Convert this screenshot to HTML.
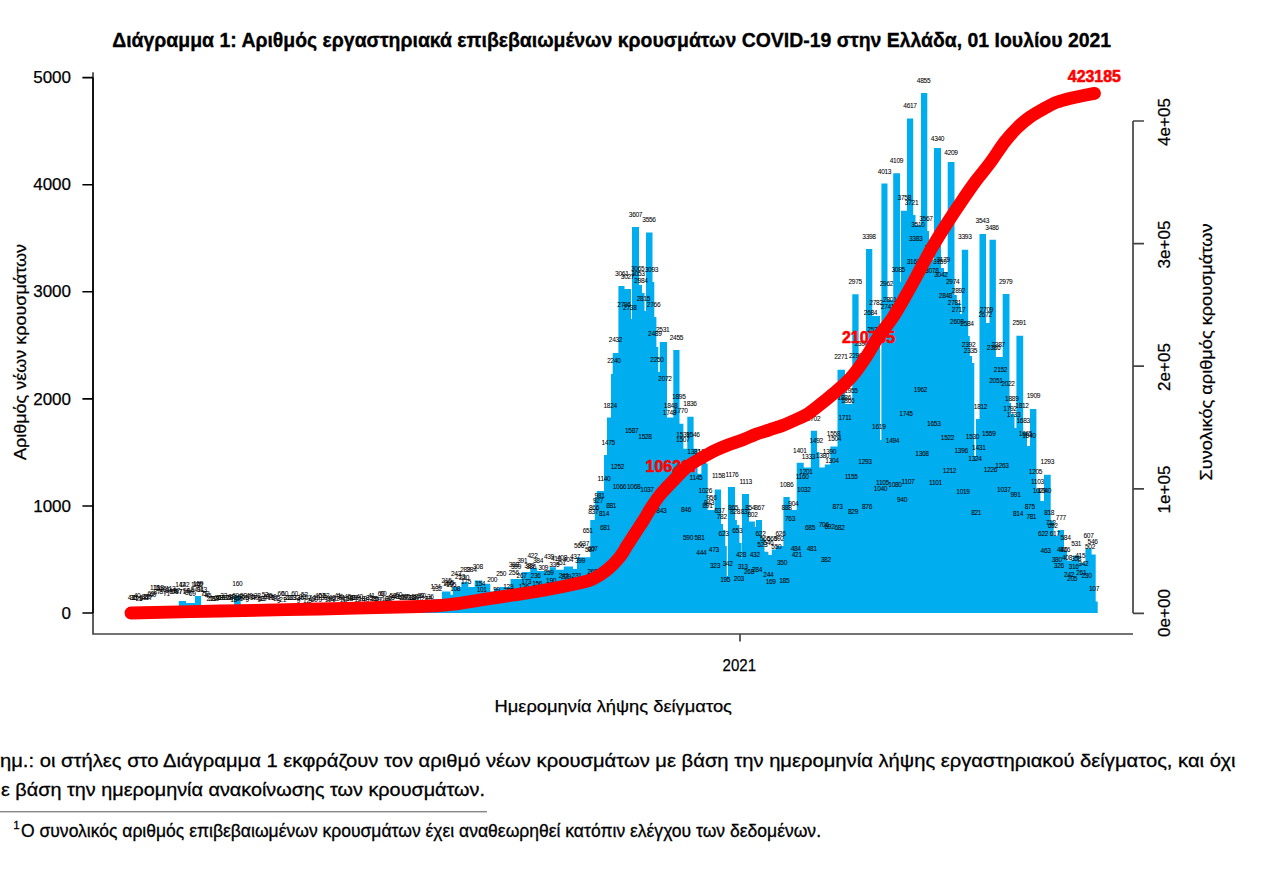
<!DOCTYPE html>
<html><head><meta charset="utf-8"><style>
html,body{margin:0;padding:0;background:#fff;width:1280px;height:880px;overflow:hidden}
svg{display:block}
text{font-family:"Liberation Sans",sans-serif}
</style></head><body>
<svg width="1280" height="880" viewBox="0 0 1280 880">
<rect width="1280" height="880" fill="#fff"/>
<text x="112.2" y="47" font-size="20.5" font-weight="bold" stroke="#000" stroke-width="0.35" textLength="999" lengthAdjust="spacingAndGlyphs">Διάγραμμα 1: Αριθμός εργαστηριακά επιβεβαιωμένων κρουσμάτων COVID-19 στην Ελλάδα, 01 Ιουλίου 2021</text>
<path d="M128,613 L128,607 L157.5,607 L157.5,606 L167.6,606 L167.6,607 L178.8,607 L178.8,601 L186,601 L186,603 L195,603 L195,596 L201.1,596 L201.1,607 L234.1,607 L234.1,595.8 L240.7,595.8 L240.7,607 L432.5,607 L432.5,599 L439.5,599 L439.5,602 L441.9,602 L441.9,591.6 L450.5,591.6 L450.5,594.7 L452.8,594.7 L452.8,586.9 L461.4,586.9 L461.4,582 L468.4,582 L468.4,587 L474.7,587 L474.7,580.6 L482.5,580.6 L482.5,583.75 L490.3,583.75 L490.3,591.6 L494.2,591.6 L494.2,588.4 L499.7,588.4 L499.7,586.9 L510.6,586.9 L510.6,579 L521.6,579 L521.6,572 L530.2,572 L530.2,568 L537.2,568 L537.2,571 L549.7,571 L549.7,567.3 L555.9,567.3 L555.9,569.7 L563.75,569.7 L563.75,566.6 L573.1,566.6 L573.1,568.9 L577,568.9 L577,557.2 L590.3,557.2 L590.3,520 L594.8,520 L594.8,498 L596.8,498 L596.8,491 L604,491 L604,455 L607,455 L607,417.5 L611,417.5 L611,374 L612.7,374 L612.7,353 L618.4,353 L618.4,286 L624.5,286 L624.5,289 L631,289 L631,319 L632,319 L632,227 L639,227 L639,285 L642,285 L642,293 L644.5,293 L644.5,311 L646,311 L646,232.5 L652.5,232.5 L652.5,282 L654.3,282 L654.3,317 L656.4,317 L656.4,347 L658.2,347 L658.2,372 L659.8,372 L659.8,342 L667,342 L667,417.5 L673.3,417.5 L673.3,350 L679.5,350 L679.5,423.75 L683.4,423.75 L683.4,448.75 L687.3,448.75 L687.3,416.7 L693.6,416.7 L693.6,448.75 L697.5,448.75 L697.5,473.75 L701.4,473.75 L701.4,463.6 L707.7,463.6 L707.7,510 L714.7,510 L714.7,489.4 L721,489.4 L721,524 L723,524 L723,530 L725.3,530 L725.3,546 L726.8,546 L726.8,576 L728,576 L728,487 L735,487 L735,520 L736.9,520 L736.9,525 L739.4,525 L739.4,543 L741.6,543 L741.6,558.6 L742,558.6 L742,494 L749,494 L749,521.4 L754.9,521.4 L754.9,527 L756,527 L756,520 L762,520 L762,538 L764.5,538 L764.5,551.8 L768.4,551.8 L768.4,555 L771.8,555 L771.8,549.5 L776,549.5 L776,546 L783.4,546 L783.4,496.9 L789.7,496.9 L789.7,510 L796.7,510 L796.7,462.8 L803.75,462.8 L803.75,467.5 L810.8,467.5 L810.8,430.8 L817,430.8 L817,452 L819.4,452 L819.4,467.5 L824.8,467.5 L824.8,464.4 L830.3,464.4 L830.3,446.4 L837.5,446.4 L837.5,369.8 L845,369.8 L845,404 L852.3,404 L852.3,294.3 L858.6,294.3 L858.6,356 L866,356 L866,249 L872.3,249 L872.3,316 L880,316 L880,440 L881.4,440 L881.4,183.4 L887.5,183.4 L887.5,300 L893.2,300 L893.2,173.2 L900,173.2 L900,282 L901,282 L901,210.7 L907,210.7 L907,118.6 L913.2,118.6 L913.2,215 L915.5,215 L915.5,225 L921,225 L921,93 L927.3,93 L927.3,231 L929,231 L929,260 L934,260 L934,148 L941,148 L941,268 L944,268 L944,272 L947.7,272 L947.7,162 L954.5,162 L954.5,295 L956.8,295 L956.8,303 L960.2,303 L960.2,314 L961.8,314 L961.8,249.8 L968.2,249.8 L968.2,336 L969.8,336 L969.8,356 L972,356 L972,363 L974.3,363 L974.3,456 L976,456 L976,419 L979.5,419 L979.5,233.9 L986,233.9 L986,323 L989.5,323 L989.5,239.8 L995.9,239.8 L995.9,357 L1002.7,357 L1002.7,294 L1009.5,294 L1009.5,403 L1011,403 L1011,414 L1014.5,414 L1014.5,428 L1016.4,428 L1016.4,335.7 L1023.2,335.7 L1023.2,432 L1027,432 L1027,446 L1030,446 L1030,408.9 L1036.4,408.9 L1036.4,489 L1040.4,489 L1040.4,501 L1044,501 L1044,474.8 L1050.7,474.8 L1050.7,520.8 L1053.7,520.8 L1053.7,536 L1057.8,536 L1057.8,530 L1064,530 L1064,550.4 L1067,550.4 L1067,560.6 L1073.2,560.6 L1073.2,555.5 L1079.3,555.5 L1079.3,562.7 L1085.4,562.7 L1085.4,548.4 L1091.6,548.4 L1091.6,554.5 L1095.7,554.5 L1095.7,601.5 L1097.7,601.5 L1097.7,613 Z" fill="#00AEEF"/>
<g font-size="6.6" text-anchor="middle" fill="#000" stroke="#000" stroke-width="0.05" letter-spacing="-0.3"><text x="131.2" y="599.7">41</text><text x="133.2" y="599.5">36</text><text x="135.1" y="600.4">31</text><text x="137.1" y="598.4">40</text><text x="139.1" y="601.3">25</text><text x="141.0" y="600.9">9</text><text x="143.0" y="599.8">28</text><text x="145.0" y="598.5">33</text><text x="146.9" y="598.9">28</text><text x="148.9" y="600.3">17</text><text x="150.9" y="595.8">69</text><text x="152.8" y="596.7">69</text><text x="154.8" y="590.4">113</text><text x="156.8" y="593.8">87</text><text x="158.8" y="589.9">113</text><text x="160.7" y="591.2">107</text><text x="162.7" y="593.8">87</text><text x="164.7" y="591.5">107</text><text x="166.6" y="596.1">71</text><text x="168.6" y="592.6">94</text><text x="170.6" y="591.4">113</text><text x="172.5" y="593.9">87</text><text x="174.5" y="593.8">94</text><text x="176.5" y="592.9">97</text><text x="178.4" y="593.7">87</text><text x="180.4" y="586.9">142</text><text x="182.4" y="594.3">71</text><text x="184.3" y="587.4">142</text><text x="186.3" y="593.1">94</text><text x="188.3" y="594.5">87</text><text x="190.2" y="593.4">94</text><text x="192.2" y="596.2">69</text><text x="194.2" y="592.4">94</text><text x="196.1" y="586.6">142</text><text x="198.1" y="587.0">142</text><text x="200.1" y="591.9">94</text><text x="202.0" y="591.5">113</text><text x="204.0" y="596.4">71</text><text x="206.0" y="596.4">52</text><text x="208.0" y="597.9">45</text><text x="209.9" y="601.0">27</text><text x="211.9" y="600.9">28</text><text x="213.9" y="600.6">27</text><text x="215.8" y="601.4">19</text><text x="217.8" y="600.2">36</text><text x="219.8" y="600.1">18</text><text x="221.7" y="600.4">18</text><text x="223.7" y="598.3">33</text><text x="225.7" y="600.4">17</text><text x="227.6" y="600.2">15</text><text x="229.6" y="600.1">28</text><text x="231.6" y="599.1">38</text><text x="233.5" y="601.5">18</text><text x="235.5" y="597.6">60</text><text x="237.5" y="600.2">25</text><text x="239.4" y="600.5">21</text><text x="241.4" y="598.9">36</text><text x="243.4" y="597.7">52</text><text x="245.3" y="599.6">25</text><text x="247.3" y="601.9">9</text><text x="249.3" y="598.3">40</text><text x="251.2" y="599.4">25</text><text x="253.2" y="600.3">17</text><text x="255.2" y="599.8">40</text><text x="257.2" y="597.8">38</text><text x="259.1" y="602.3">9</text><text x="261.1" y="601.4">18</text><text x="263.1" y="601.2">19</text><text x="265.0" y="596.5">52</text><text x="267.0" y="598.6">52</text><text x="269.0" y="598.1">45</text><text x="270.9" y="600.4">15</text><text x="272.9" y="599.3">40</text><text x="274.9" y="600.1">27</text><text x="276.8" y="600.7">22</text><text x="278.8" y="603.1">9</text><text x="280.8" y="596.2">60</text><text x="282.7" y="601.7">21</text><text x="284.7" y="596.1">60</text><text x="286.7" y="600.1">31</text><text x="288.6" y="600.1">27</text><text x="290.6" y="600.3">22</text><text x="292.6" y="599.5">33</text><text x="294.5" y="596.2">60</text><text x="296.5" y="599.7">33</text><text x="298.5" y="602.8">9</text><text x="300.4" y="599.7">36</text><text x="302.4" y="598.7">33</text><text x="304.4" y="597.1">52</text><text x="306.4" y="602.9">12</text><text x="308.3" y="600.0">27</text><text x="310.3" y="602.5">9</text><text x="312.3" y="600.8">19</text><text x="314.2" y="602.1">19</text><text x="316.2" y="600.0">19</text><text x="318.2" y="598.1">40</text><text x="320.1" y="601.6">9</text><text x="322.1" y="597.7">52</text><text x="324.1" y="599.7">38</text><text x="326.0" y="598.4">52</text><text x="328.0" y="601.7">19</text><text x="330.0" y="600.5">31</text><text x="331.9" y="599.7">40</text><text x="333.9" y="602.0">9</text><text x="335.9" y="600.5">22</text><text x="337.8" y="597.6">41</text><text x="339.8" y="599.1">36</text><text x="341.8" y="600.2">31</text><text x="343.7" y="601.8">22</text><text x="345.7" y="600.9">12</text><text x="347.7" y="598.9">45</text><text x="349.6" y="601.3">18</text><text x="351.6" y="600.1">38</text><text x="353.6" y="600.1">19</text><text x="355.6" y="599.9">21</text><text x="357.5" y="602.4">12</text><text x="359.5" y="598.8">40</text><text x="361.5" y="600.9">18</text><text x="363.4" y="602.8">9</text><text x="365.4" y="600.9">9</text><text x="367.4" y="601.5">9</text><text x="369.3" y="600.1">33</text><text x="371.3" y="598.0">41</text><text x="373.3" y="600.8">28</text><text x="375.2" y="601.3">25</text><text x="377.2" y="601.9">19</text><text x="379.2" y="601.9">17</text><text x="381.1" y="596.4">60</text><text x="383.1" y="595.7">60</text><text x="385.1" y="601.1">18</text><text x="387.0" y="602.6">12</text><text x="389.0" y="600.9">22</text><text x="391.0" y="600.3">18</text><text x="392.9" y="597.7">52</text><text x="394.9" y="598.8">40</text><text x="396.9" y="599.0">41</text><text x="398.8" y="596.7">60</text><text x="400.8" y="599.6">40</text><text x="402.8" y="599.7">25</text><text x="404.8" y="599.0">27</text><text x="406.7" y="598.7">40</text><text x="408.7" y="599.6">21</text><text x="410.7" y="599.5">31</text><text x="412.6" y="600.1">38</text><text x="414.6" y="599.0">38</text><text x="416.6" y="600.0">27</text><text x="418.5" y="601.5">21</text><text x="420.5" y="597.6">60</text><text x="422.5" y="597.5">60</text><text x="424.4" y="601.1">27</text><text x="426.4" y="602.9">9</text><text x="428.4" y="600.9">18</text><text x="430.3" y="599.0">36</text><text x="906.0" y="415.5">1745</text><text x="933.8" y="425.5">1653</text><text x="878.8" y="428.5">1619</text><text x="892.5" y="442.5">1494</text><text x="947.5" y="440.0">1522</text><text x="972.5" y="438.5">1530</text><text x="988.8" y="435.5">1559</text><text x="978.8" y="449.5">1431</text><text x="961.2" y="453.0">1396</text><text x="922.0" y="456.0">1368</text><text x="975.0" y="461.2">1324</text><text x="865.0" y="463.8">1293</text><text x="949.5" y="473.2">1212</text><text x="990.5" y="471.5">1226</text><text x="1002.0" y="468.0">1263</text><text x="851.2" y="479.0">1155</text><text x="882.5" y="484.5">1105</text><text x="880.5" y="491.2">1040</text><text x="895.0" y="486.8">1080</text><text x="908.0" y="484.2">1107</text><text x="935.5" y="484.5">1101</text><text x="963.0" y="493.8">1019</text><text x="1003.8" y="491.8">1037</text><text x="1015.5" y="496.8">991</text><text x="902.0" y="502.0">940</text><text x="837.5" y="509.0">873</text><text x="853.0" y="514.0">829</text><text x="867.0" y="509.0">876</text><text x="976.2" y="515.0">821</text><text x="1018.0" y="515.8">814</text><text x="810.0" y="529.5">685</text><text x="823.8" y="527.0">706</text><text x="829.5" y="528.8">692</text><text x="839.5" y="530.0">682</text><text x="811.8" y="551.2">481</text><text x="825.8" y="561.8">382</text><text x="920.5" y="392.3">1962</text><text x="845.0" y="419.7">1711</text><text x="833.6" y="435.7">1558</text><text x="834.5" y="440.7">1504</text><text x="816.2" y="442.7">1492</text><text x="799.8" y="452.8">1401</text><text x="808.4" y="459.1">1333</text><text x="829.5" y="453.5">1390</text><text x="831.9" y="463.0">1304</text><text x="822.5" y="457.5">1380</text><text x="806.0" y="473.9">1201</text><text x="802.2" y="478.5">1160</text><text x="803.8" y="491.9">1032</text><text x="786.6" y="486.5">1086</text><text x="793.4" y="505.5">904</text><text x="786.6" y="510.0">888</text><text x="790.0" y="520.7">763</text><text x="795.7" y="550.9">484</text><text x="796.8" y="557.0">421</text><text x="782.0" y="564.5">350</text><text x="784.3" y="582.7">185</text><text x="770.7" y="584.3">169</text><text x="768.4" y="576.5">244</text><text x="757.0" y="571.8">284</text><text x="749.0" y="573.5">268</text><text x="742.7" y="569.1">313</text><text x="754.8" y="556.5">432</text><text x="741.0" y="556.5">428</text><text x="738.9" y="581.1">203</text><text x="725.2" y="581.5">195</text><text x="715.0" y="568.0">323</text><text x="727.5" y="566.1">342</text><text x="701.4" y="554.8">444</text><text x="713.9" y="552.0">473</text><text x="699.5" y="540.2">581</text><text x="688.0" y="539.5">590</text><text x="686.0" y="511.5">846</text><text x="661.4" y="512.5">843</text><text x="647.0" y="491.9">1037</text><text x="619.4" y="488.5">1066</text><text x="633.7" y="488.5">1068</text><text x="617.4" y="468.5">1252</text><text x="604.0" y="480.5">1140</text><text x="608.2" y="444.9">1475</text><text x="631.7" y="432.5">1587</text><text x="645.0" y="438.5">1528</text><text x="610.2" y="407.5">1824</text><text x="611.2" y="508.3">881</text><text x="604.0" y="515.5">814</text><text x="605.0" y="529.5">681</text><text x="705.3" y="493.0">1026</text><text x="711.5" y="500.1">956</text><text x="709.0" y="504.5">943</text><text x="707.5" y="507.5">891</text><text x="696.0" y="480.3">1145</text><text x="694.0" y="453.5">1381</text><text x="682.8" y="441.8">1507</text><text x="683.0" y="436.7">1539</text><text x="693.0" y="436.5">1546</text><text x="669.5" y="415.2">1748</text><text x="680.8" y="413.2">1770</text><text x="670.6" y="408.1">1848</text><text x="678.8" y="399.3">1895</text><text x="690.0" y="406.0">1836</text><text x="665.0" y="380.9">2072</text><text x="657.0" y="362.0">2250</text><text x="654.8" y="336.1">2489</text><text x="662.7" y="331.5">2531</text><text x="676.4" y="340.0">2455</text><text x="615.5" y="341.8">2432</text><text x="613.9" y="362.7">2240</text><text x="653.6" y="307.0">2766</text><text x="643.4" y="300.9">2815</text><text x="629.8" y="309.8">2738</text><text x="624.0" y="306.5">2796</text><text x="641.0" y="283.2">2984</text><text x="621.8" y="276.4">3061</text><text x="627.5" y="278.5">3027</text><text x="637.7" y="270.5">3065</text><text x="638.0" y="276.4">3053</text><text x="651.4" y="271.8">3093</text><text x="635.5" y="216.5">3607</text><text x="649.0" y="222.3">3556</text><text x="923.6" y="83.0">4855</text><text x="910.0" y="108.0">4617</text><text x="896.4" y="162.7">4109</text><text x="884.5" y="173.5">4013</text><text x="904.3" y="200.0">3758</text><text x="911.6" y="204.5">3721</text><text x="925.9" y="220.7">3567</text><text x="918.0" y="226.8">3510</text><text x="915.7" y="240.9">3383</text><text x="869.0" y="238.9">3398</text><text x="913.4" y="263.9">3161</text><text x="898.2" y="272.3">3085</text><text x="937.5" y="140.5">4340</text><text x="951.0" y="154.5">4209</text><text x="855.2" y="284.3">2975</text><text x="886.4" y="285.9">2962</text><text x="876.1" y="304.8">2782</text><text x="889.8" y="302.0">2801</text><text x="887.5" y="308.9">2741</text><text x="870.5" y="314.5">2684</text><text x="873.9" y="331.5">2521</text><text x="861.4" y="345.7">2390</text><text x="855.7" y="358.2">2290</text><text x="840.9" y="359.3">2271</text><text x="851.0" y="393.0">1955</text><text x="844.3" y="400.2">1886</text><text x="847.7" y="403.0">1866</text><text x="813.6" y="420.7">1702</text><text x="982.3" y="223.0">3543</text><text x="992.0" y="229.8">3486</text><text x="964.8" y="238.9">3393</text><text x="1005.7" y="283.5">2979</text><text x="1019.3" y="325.2">2591</text><text x="939.8" y="264.3">3159</text><text x="943.2" y="262.0">3179</text><text x="940.9" y="276.8">3042</text><text x="931.8" y="273.0">3078</text><text x="952.7" y="283.6">2974</text><text x="945.5" y="297.7">2848</text><text x="954.5" y="305.2">2781</text><text x="958.6" y="312.0">2717</text><text x="956.8" y="324.1">2608</text><text x="967.0" y="326.4">2584</text><text x="986.4" y="312.0">2709</text><text x="985.2" y="317.0">2672</text><text x="968.6" y="346.8">2392</text><text x="970.5" y="353.0">2335</text><text x="998.2" y="346.8">2387</text><text x="993.6" y="349.5">2386</text><text x="1000.5" y="371.8">2152</text><text x="995.9" y="383.0">2051</text><text x="1008.0" y="385.9">2022</text><text x="1011.8" y="400.7">1889</text><text x="1033.4" y="398.0">1909</text><text x="980.5" y="408.6">1812</text><text x="1010.0" y="410.5">1792</text><text x="1022.0" y="408.2">1812</text><text x="1013.6" y="416.6">1733</text><text x="1023.2" y="422.7">1683</text><text x="1025.5" y="435.9">1665</text><text x="1028.9" y="438.2">1640</text><text x="1035.5" y="473.7">1205</text><text x="1047.3" y="463.9">1293</text><text x="1037.4" y="484.4">1103</text><text x="1039.4" y="492.5">1029</text><text x="1044.5" y="492.5">1040</text><text x="1029.8" y="509.0">875</text><text x="1031.2" y="518.8">781</text><text x="1049.2" y="514.7">818</text><text x="1060.9" y="519.6">777</text><text x="1050.7" y="525.3">712</text><text x="1052.7" y="528.4">692</text><text x="1043.1" y="536.2">622</text><text x="1054.8" y="536.2">617</text><text x="1045.6" y="552.9">463</text><text x="1062.0" y="551.9">486</text><text x="1065.0" y="551.9">476</text><text x="1076.2" y="545.8">531</text><text x="1088.5" y="537.5">607</text><text x="1092.6" y="543.7">546</text><text x="1090.0" y="548.8">502</text><text x="1056.8" y="561.7">380</text><text x="1058.9" y="567.7">326</text><text x="1067.0" y="560.1">408</text><text x="1080.3" y="557.6">415</text><text x="1076.2" y="561.1">358</text><text x="1083.4" y="565.6">342</text><text x="1073.6" y="568.9">316</text><text x="1069.1" y="576.5">242</text><text x="1072.1" y="580.5">205</text><text x="1081.3" y="575.0">261</text><text x="1086.5" y="577.5">230</text><text x="1094.0" y="590.8">107</text><text x="718.4" y="478.2">1158</text><text x="732.0" y="476.5">1176</text><text x="745.7" y="483.9">1113</text><text x="719.5" y="513.0">837</text><text x="721.8" y="519.1">782</text><text x="723.6" y="535.7">623</text><text x="733.2" y="510.0">865</text><text x="735.0" y="514.1">828</text><text x="737.3" y="532.7">653</text><text x="750.2" y="510.0">854</text><text x="759.3" y="510.0">867</text><text x="745.7" y="513.5">837</text><text x="752.5" y="516.8">802</text><text x="760.5" y="535.7">622</text><text x="780.5" y="535.5">626</text><text x="765.0" y="540.5">566</text><text x="772.0" y="540.5">569</text><text x="779.0" y="541.0">592</text><text x="762.3" y="547.0">523</text><text x="768.4" y="545.2">546</text><text x="776.4" y="549.1">550</text><text x="599.6" y="497.6">981</text><text x="598.0" y="503.2">927</text><text x="594.0" y="510.3">866</text><text x="593.3" y="513.5">837</text><text x="587.7" y="533.1">651</text><text x="579.0" y="547.7">566</text><text x="584.0" y="545.5">637</text><text x="590.0" y="551.5">587</text><text x="592.7" y="551.1">607</text><text x="549.0" y="558.5">439</text><text x="556.0" y="560.5">410</text><text x="562.0" y="559.5">408</text><text x="575.0" y="558.5">437</text><text x="580.0" y="562.5">399</text><text x="568.0" y="561.5">404</text><text x="560.7" y="564.9">351</text><text x="554.3" y="566.8">335</text><text x="543.2" y="569.9">309</text><text x="548.7" y="574.7">259</text><text x="563.8" y="577.5">241</text><text x="566.0" y="579.0">229</text><text x="576.6" y="577.9">231</text><text x="592.5" y="573.9">269</text><text x="551.1" y="582.5">190</text><text x="537.2" y="586.2">156</text><text x="535.6" y="577.7">236</text><text x="526.2" y="583.9">173</text><text x="523.9" y="588.9">126</text><text x="508.3" y="588.5">129</text><text x="510.6" y="592.5">98</text><text x="496.6" y="592.2">99</text><text x="481.7" y="591.7">101</text><text x="480.2" y="585.5">154</text><text x="466.0" y="584.4">175</text><text x="455.2" y="590.9">108</text><text x="532.5" y="558.1">422</text><text x="522.3" y="562.8">391</text><text x="538.0" y="562.8">384</text><text x="529.4" y="567.5">389</text><text x="531.0" y="568.5">386</text><text x="513.8" y="566.7">388</text><text x="516.0" y="568.5">399</text><text x="501.2" y="576.1">250</text><text x="513.8" y="575.3">256</text><text x="521.6" y="577.7">267</text><text x="477.8" y="569.1">308</text><text x="465.3" y="572.2">289</text><text x="471.5" y="572.2">284</text><text x="456.0" y="575.5">243</text><text x="460.0" y="578.5">213</text><text x="464.0" y="579.5">230</text><text x="446.6" y="582.5">215</text><text x="449.0" y="584.5">205</text><text x="451.0" y="586.5">195</text><text x="448.0" y="585.5">160</text><text x="435.6" y="588.5">124</text><text x="437.0" y="590.5">132</text><text x="198.1" y="586.0">159</text><text x="237.4" y="585.8">160</text><text x="492.2" y="581.6">200</text><text x="699.5" y="463.8">1299</text><text x="704.5" y="453.6">1394</text><text x="931.5" y="250.0">3293</text><text x="958.5" y="293.0">2892</text><text x="1065.5" y="540.4">584</text></g>
<!-- axes -->
<g stroke="#444" stroke-width="1.7" fill="none">
<path d="M93,72.3 V634 H1133 M740,634 V641.5"/>
<path d="M1133,121 V613.3 M1133,121 H1144 M1133,243.6 H1144 M1133,366.2 H1144 M1133,488.8 H1144 M1133,613.3 H1144"/>
</g>
<g stroke="#000" stroke-width="1.6" fill="none">
<path d="M93,77.5 V613 M82.4,77.6 H93 M82.4,184.7 H93 M82.4,291.8 H93 M82.4,398.9 H93 M82.4,506 H93 M82.4,613 H93"/>
</g>
<g font-size="17" text-anchor="end" fill="#000" stroke="#000" stroke-width="0.25">
<text x="71" y="83">5000</text><text x="71" y="190.2">4000</text><text x="71" y="297.4">3000</text>
<text x="71" y="404.6">2000</text><text x="71" y="511.8">1000</text><text x="71" y="619">0</text>
</g>
<g font-size="17" text-anchor="middle" fill="#000" stroke="#000" stroke-width="0.25">
<text transform="translate(1170,122) rotate(-90)">4e+05</text>
<text transform="translate(1170,244.5) rotate(-90)">3e+05</text>
<text transform="translate(1170,367) rotate(-90)">2e+05</text>
<text transform="translate(1170,489.5) rotate(-90)">1e+05</text>
<text transform="translate(1170,613) rotate(-90)">0e+00</text>
<text transform="translate(1212,352) rotate(-90)" textLength="257" lengthAdjust="spacingAndGlyphs">Συνολικός αριθμός κρουσμάτων</text>
<text transform="translate(26,352) rotate(-90)" textLength="216" lengthAdjust="spacingAndGlyphs">Αριθμός νέων κρουσμάτων</text>
<text x="739.3" y="671.2" textLength="33.5" lengthAdjust="spacingAndGlyphs">2021</text>
<text x="613.2" y="711.5" textLength="237.5" lengthAdjust="spacingAndGlyphs">Ημερομηνία λήψης δείγματος</text>
</g>
<path d="M131,613 C145.83,612.67 188.50,611.67 220,611 C251.50,610.33 286.67,609.75 320,609 C353.33,608.25 398.17,607.27 420,606.5 C441.83,605.73 440.58,605.53 451,604.4 C461.42,603.27 472.04,601.27 482.5,599.7 C492.96,598.13 503.33,596.62 513.75,595 C524.17,593.38 534.62,591.88 545,590 C555.38,588.12 568.17,585.52 576,583.75 C583.83,581.98 586.83,581.69 592,579.4 C597.17,577.11 602.43,573.65 607,570 C611.57,566.35 615.98,561.67 619.4,557.5 C622.82,553.33 624.80,549.17 627.5,545 C630.20,540.83 632.89,536.67 635.6,532.5 C638.31,528.33 641.14,524.17 643.75,520 C646.36,515.83 648.54,511.67 651.25,507.5 C653.96,503.33 656.54,499.25 660,495 C663.46,490.75 667.45,486.70 672,482 C676.55,477.30 682.48,470.75 687.3,466.8 C692.12,462.85 696.28,461.00 700.9,458.3 C705.52,455.60 710.38,452.85 715,450.6 C719.62,448.35 724.05,446.57 728.6,444.8 C733.15,443.03 737.75,441.77 742.3,440 C746.85,438.23 751.37,435.90 755.9,434.2 C760.43,432.50 764.95,431.28 769.5,429.8 C774.05,428.32 778.98,426.90 783.2,425.3 C787.42,423.70 790.63,422.15 794.8,420.2 C798.97,418.25 802.93,417.05 808.2,413.6 C813.47,410.15 820.35,404.43 826.4,399.5 C832.45,394.57 839.73,388.47 844.5,384 C849.27,379.53 851.13,377.62 855,372.7 C858.87,367.78 863.77,360.55 867.7,354.5 C871.63,348.45 874.50,342.45 878.6,336.4 C882.70,330.35 887.90,324.77 892.3,318.2 C896.70,311.63 900.80,304.28 905,297 C909.20,289.72 912.97,282.78 917.5,274.5 C922.03,266.22 927.12,256.08 932.2,247.3 C937.28,238.52 943.10,229.47 948,221.8 C952.90,214.13 956.95,208.12 961.6,201.3 C966.25,194.48 971.17,187.28 975.9,180.9 C980.63,174.52 985.15,169.57 990,163 C994.85,156.43 1000.42,147.42 1005,141.5 C1009.58,135.58 1013.33,131.58 1017.5,127.5 C1021.67,123.42 1025.83,120.00 1030,117 C1034.17,114.00 1038.33,111.87 1042.5,109.5 C1046.67,107.13 1050.83,104.55 1055,102.8 C1059.17,101.05 1063.33,100.09 1067.5,99 C1071.67,97.91 1075.50,97.18 1080,96.25 C1084.50,95.32 1092.08,93.88 1094.5,93.4" stroke="#FF0000" stroke-width="12.8" fill="none" stroke-linecap="round" stroke-linejoin="round"/>
<g font-size="16.5" font-weight="bold" fill="#FF0000" stroke="#FF0000" stroke-width="0.6">
<text x="645.5" y="472" textLength="53.5" lengthAdjust="spacingAndGlyphs">106227</text>
<text x="842" y="342.7" textLength="53" lengthAdjust="spacingAndGlyphs">210765</text>
<text x="1067.8" y="81.8" textLength="53" lengthAdjust="spacingAndGlyphs">423185</text>
</g>
<g font-size="19" fill="#000" stroke="#000" stroke-width="0.3">
<text x="0" y="766.7" textLength="1235.5" lengthAdjust="spacingAndGlyphs">ημ.:  οι στήλες στο Διάγραμμα 1 εκφράζουν τον αριθμό νέων κρουσμάτων με βάση την ημερομηνία λήψης εργαστηριακού δείγματος, και όχι</text>
<text x="1" y="795.8" textLength="484" lengthAdjust="spacingAndGlyphs">ε βάση την ημερομηνία ανακοίνωσης των κρουσμάτων.</text>
</g>
<path d="M0,811.8 H487" stroke="#555" stroke-width="1"/>
<g font-size="17" fill="#000" stroke="#000" stroke-width="0.3">
<text x="13.2" y="828.6" font-size="11.5">1</text>
<text x="21" y="836.8" font-size="17.8" textLength="800" lengthAdjust="spacingAndGlyphs">Ο συνολικός αριθμός επιβεβαιωμένων κρουσμάτων έχει αναθεωρηθεί κατόπιν ελέγχου των δεδομένων.</text>
</g>
</svg>
</body></html>
